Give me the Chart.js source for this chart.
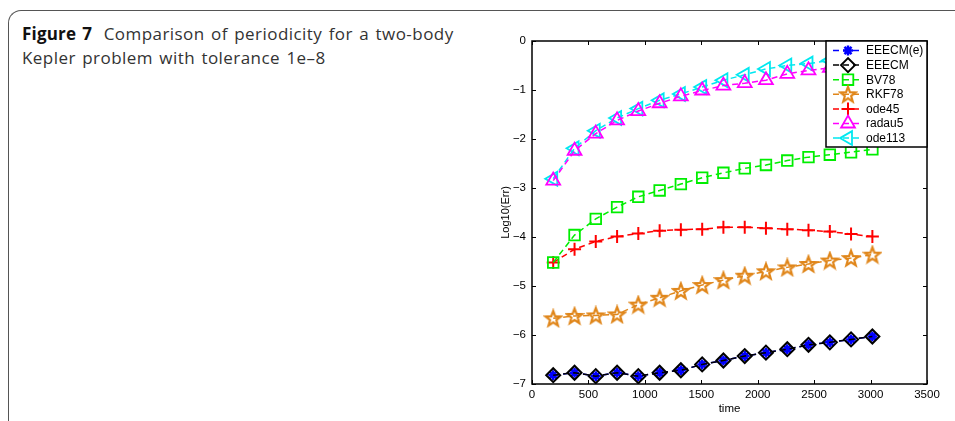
<!DOCTYPE html>
<html>
<head>
<meta charset="utf-8">
<script src="https://cdn.jsdelivr.net/npm/chart.js"></script>
<style>
  html, body { margin: 0; padding: 0; background: #fff; }
  body { width: 955px; height: 421px; position: relative; overflow: hidden; }
  .frame {
    position: absolute; left: 8px; top: 10px; width: 1000px; height: 500px;
    border-left: 1px solid #555; border-top: 1px solid #555;
    border-top-left-radius: 13px;
  }
  .caption {
    position: absolute; left: 22px; top: 22px; width: 470px; white-space: nowrap;
    font-family: "Open Sans", sans-serif; font-size: 17px; line-height: 24px; color: #333;
    letter-spacing: 0.45px; word-spacing: 1.5px;
  }
  .caption b { color: #111; margin-right: 5px; letter-spacing: 0.2px; }
  .area_body { position: absolute; left: 480px; top: 0; width: 475px; height: 421px; }
</style>
</head>
<body>
<div class="frame"></div>
<div class="caption"><b>Figure 7</b> Comparison of periodicity for a two-body<br>Kepler problem with tolerance 1e&#8211;8</div>
<div class="area_body">
  <canvas id="myChart" width="475" height="421"></canvas>
</div>

<script>
  // 横軸 (time)
  var times = [188, 377, 565, 754, 942, 1131, 1319, 1508, 1696, 1885, 2073, 2262, 2450, 2639, 2827, 3016];

  // 各手法の log10(err)
  var eeecmE = [-6.82, -6.77, -6.84, -6.77, -6.84, -6.77, -6.72, -6.60, -6.52, -6.43, -6.36, -6.29, -6.20, -6.15, -6.09, -6.03];
  var eeecm  = [-6.82, -6.77, -6.84, -6.77, -6.84, -6.77, -6.72, -6.60, -6.52, -6.43, -6.36, -6.29, -6.20, -6.15, -6.09, -6.03];
  var bv78   = [-4.52, -3.96, -3.63, -3.39, -3.18, -3.05, -2.92, -2.79, -2.69, -2.60, -2.53, -2.44, -2.37, -2.32, -2.27, -2.21];
  var rkf78  = [-5.66, -5.61, -5.60, -5.58, -5.38, -5.24, -5.10, -4.98, -4.88, -4.79, -4.70, -4.62, -4.55, -4.48, -4.43, -4.36];
  var ode45  = [-4.52, -4.25, -4.09, -3.99, -3.93, -3.87, -3.85, -3.84, -3.80, -3.80, -3.82, -3.84, -3.86, -3.89, -3.94, -3.99];
  var radau5 = [-2.85, -2.24, -1.89, -1.62, -1.43, -1.27, -1.13, -1.01, -0.91, -0.86, -0.80, -0.67, -0.60, -0.55, -0.50, -0.45];
  var ode113 = [-2.81, -2.19, -1.83, -1.57, -1.38, -1.21, -1.08, -0.94, -0.80, -0.69, -0.57, -0.50, -0.46, -0.40, -0.35, -0.30];

  var labels = ['EEECM(e)', 'EEECM', 'BV78', 'RKF78', 'ode45', 'radau5', 'ode113'];

  // 軸の目盛り
  var xTicks = [0, 500, 1000, 1500, 2000, 2500, 3000, 3500];
  var yTicks = [0, -1, -2, -3, -4, -5, -6, -7];

  var FONT = '"Liberation Sans", Arial, sans-serif';

  // 五芒星マーカー (MATLAB の 'p')
  function makeStar(color, r) {
    var c = document.createElement('canvas');
    var s = Math.ceil(r * 2 + 4);
    c.width = s; c.height = s;
    var g = c.getContext('2d');
    g.strokeStyle = color;
    g.lineWidth = 2.2;
    g.beginPath();
    for (var i = 0; i < 10; i++) {
      var rr = i % 2 === 0 ? r : r * 0.42;
      var a = -Math.PI / 2 + i * Math.PI / 5;
      var px = s / 2 + rr * Math.cos(a), py = s / 2 + rr * Math.sin(a) + r * 0.08;
      if (i === 0) g.moveTo(px, py); else g.lineTo(px, py);
    }
    g.closePath();
    g.stroke();
    return c;
  }

  function pts(ys) {
    return times.map(function (t, i) { return { x: t, y: ys[i] }; });
  }

  function ds(label, ys, color, style, radius, extra) {
    var d = {
      label: label,
      data: pts(ys),
      borderColor: color,
      backgroundColor: 'rgba(0,0,0,0)',
      borderWidth: 1.5,
      borderDash: [6, 4],
      pointStyle: style,
      pointRadius: radius,
      pointBorderColor: color,
      pointBackgroundColor: 'rgba(0,0,0,0)',
      pointBorderWidth: 1.8,
      tension: 0,
      fill: false
    };
    for (var k in extra) d[k] = extra[k];
    return d;
  }

  var starImg = makeStar('#e0861a', 8);

  var datasets = [
    ds(labels[0], eeecmE, '#0000ff', 'star', 5, { pointBorderWidth: 2.5, order: 2 }),
    ds(labels[1], eeecm, '#000000', 'rectRot', 7, { pointBorderWidth: 2, order: 1 }),
    ds(labels[2], bv78, '#00ee00', 'rect', 7.5, { order: 0 }),
    ds(labels[3], rkf78, '#e0861a', starImg, 8, { order: 0 }),
    ds(labels[4], ode45, '#ff0000', 'cross', 6.5, { pointBorderWidth: 2, order: 0 }),
    ds(labels[5], radau5, '#ff00ff', 'triangle', 8, { order: 0 }),
    ds(labels[6], ode113, '#00e8f0', 'triangle', 8, { pointRotation: -90, order: 0 })
  ];

  // 枠・内向き目盛り・凡例 (MATLAB 風)
  var matlabBox = {
    id: 'matlabBox',
    afterDraw: function (chart) {
      var ctx = chart.ctx, a = chart.chartArea;
      var xs = chart.scales.x, ys = chart.scales.y;
      ctx.save();
      ctx.strokeStyle = '#000';
      ctx.lineWidth = 1;
      ctx.beginPath();
      xTicks.forEach(function (v) {
        var px = Math.round(xs.getPixelForValue(v)) + 0.5;
        ctx.moveTo(px, a.bottom); ctx.lineTo(px, a.bottom - 4);
        ctx.moveTo(px, a.top); ctx.lineTo(px, a.top + 4);
      });
      yTicks.forEach(function (v) {
        var py = Math.round(ys.getPixelForValue(v)) + 0.5;
        ctx.moveTo(a.left, py); ctx.lineTo(a.left + 4, py);
        ctx.moveTo(a.right, py); ctx.lineTo(a.right - 4, py);
      });
      ctx.stroke();
      ctx.lineWidth = 1.5;
      ctx.strokeRect(a.left, a.top, a.right - a.left, a.bottom - a.top);

      // 凡例
      var lx = a.right - 101, ly = a.top, lw = 101, lh = 106;
      ctx.fillStyle = '#fff';
      ctx.fillRect(lx, ly, lw, lh);
      ctx.strokeRect(lx, ly, lw, lh);
      chart.data.datasets.forEach(function (d, i) {
        var cy = ly + 9.5 + i * 14.6;
        ctx.strokeStyle = d.borderColor;
        ctx.lineWidth = 1.5;
        ctx.setLineDash([6, 4]);
        ctx.beginPath();
        ctx.moveTo(lx + 7, cy); ctx.lineTo(lx + 37, cy);
        ctx.stroke();
        ctx.setLineDash([]);
        ctx.lineWidth = d.pointBorderWidth;
        ctx.fillStyle = d.pointBackgroundColor;
        Chart.helpers.drawPoint(ctx, {
          pointStyle: d.pointStyle,
          radius: d.pointRadius,
          rotation: d.pointRotation || 0,
          borderWidth: d.pointBorderWidth
        }, lx + 22, cy);
        ctx.fillStyle = '#000';
        ctx.font = '12px ' + FONT;
        ctx.textBaseline = 'middle';
        ctx.textAlign = 'left';
        ctx.fillText(d.label, lx + 40, cy + 0.5);
      });
      ctx.restore();
    }
  };

  var ctx = document.getElementById('myChart').getContext('2d');
  var myChart = new Chart(ctx, {
    type: 'line',
    data: { datasets: datasets },
    plugins: [matlabBox],
    options: {
      responsive: false,
      animation: false,
      layout: { padding: { top: 41, right: 28, bottom: 0, left: 0 } },
      plugins: { legend: { display: false }, tooltip: { enabled: false } },
      scales: {
        x: {
          type: 'linear',
          min: 0,
          max: 3500,
          afterFit: function (s) { s.height = 37; },
          afterBuildTicks: function (s) { s.ticks = xTicks.map(function (v) { return { value: v }; }); },
          grid: { display: false, drawTicks: false },
          border: { display: false },
          ticks: {
            color: '#000', font: { family: FONT, size: 11.5 }, padding: 4, maxRotation: 0,
            callback: function (v) { return String(v); }
          },
          title: { display: true, text: 'time', color: '#000', font: { family: FONT, size: 11.5 }, padding: { top: 0, bottom: 5 } }
        },
        y: {
          min: -7,
          max: 0,
          afterFit: function (s) { s.width = 52; },
          afterBuildTicks: function (s) { s.ticks = yTicks.map(function (v) { return { value: v }; }); },
          grid: { display: false, drawTicks: false },
          border: { display: false },
          ticks: {
            color: '#000', font: { family: FONT, size: 11.5 }, padding: 6,
            callback: function (v) { return v < 0 ? '\u2212' + Math.abs(v) : String(v); }
          },
          title: { display: true, text: 'Log10(Err)', color: '#000', font: { family: FONT, size: 11 }, padding: { top: 19, bottom: 0 } }
        }
      }
    }
  });
</script>
</body>
</html>
